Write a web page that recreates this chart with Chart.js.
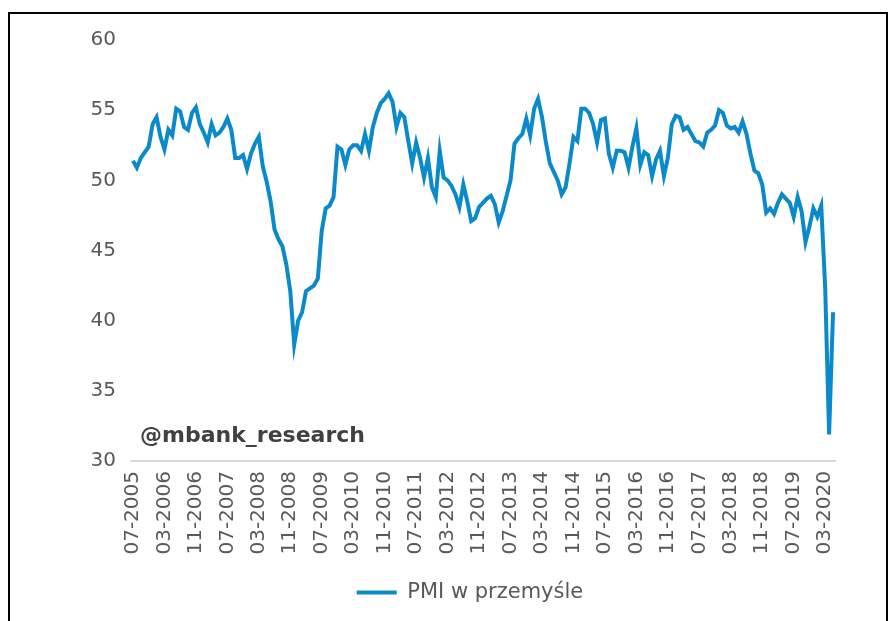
<!DOCTYPE html>
<html>
<head>
<meta charset="utf-8">
<script src="https://cdn.jsdelivr.net/npm/chart.js@4/dist/chart.umd.min.js"></script>
<style>
  body { margin: 0; background: #fff; }
  #wrap { position: relative; width: 893px; height: 621px; overflow: hidden; }
  #frame {
    position: absolute; left: 8px; top: 12px; width: 876px; height: 620px;
    border: 2px solid #000; border-bottom: none;
  }
  canvas { position: absolute; left: 0; top: 0; }
</style>
</head>
<body>
<div id="wrap">
  <div id="frame"></div>
  <canvas id="chart" width="893" height="621"></canvas>
</div>
<script>
// miesiące od 07-2005 do 05-2020
const startYear = 2005;
const startMonth = 7;
const monthCount = 179;

const tickLabels = [
  "07-2005", "03-2006", "11-2006", "07-2007", "03-2008", "11-2008",
  "07-2009", "03-2010", "11-2010", "07-2011", "03-2012", "11-2012",
  "07-2013", "03-2014", "11-2014", "07-2015", "03-2016", "11-2016",
  "07-2017", "03-2018", "11-2018", "07-2019", "03-2020"
];

const pmi = [
  51.4, 50.9, 51.6, 52.0, 52.4, 54.0, 54.5, 53.1, 52.2, 53.6,
  53.2, 55.1, 54.9, 53.8, 53.6, 54.8, 55.2, 54.0, 53.4, 52.7,
  54.0, 53.2, 53.4, 53.8, 54.4, 53.6, 51.6, 51.6, 51.8, 50.8,
  51.9, 52.6, 53.1, 51.0, 49.9, 48.5, 46.5, 45.8, 45.3, 44.0,
  42.1, 38.3, 40.0, 40.6, 42.1, 42.3, 42.5, 43.0, 46.4, 48.0,
  48.2, 48.8, 52.4, 52.2, 51.1, 52.2, 52.5, 52.5, 52.1, 53.3,
  52.1, 53.8, 54.8, 55.5, 55.8, 56.2, 55.6, 53.8, 54.8, 54.5,
  52.8, 51.2, 52.7, 51.6, 50.2, 51.6, 49.5, 48.8, 52.1, 50.2,
  50.0, 49.6, 49.0, 48.1, 49.7, 48.5, 47.1, 47.3, 48.1, 48.4,
  48.7, 48.9, 48.3, 47.0, 47.8, 48.9, 50.0, 52.6, 53.0, 53.3,
  54.4, 53.2, 55.1, 55.8, 54.5, 52.7, 51.2, 50.6, 50.0, 49.0,
  49.5, 51.2, 53.1, 52.8, 55.1, 55.1, 54.8, 54.0, 52.7, 54.3,
  54.4, 51.9, 50.9, 52.1, 52.1, 52.0, 50.9, 52.4, 53.7, 51.1,
  52.0, 51.8, 50.3, 51.5, 52.1, 50.3, 51.6, 54.0, 54.6, 54.5,
  53.6, 53.8, 53.3, 52.8, 52.7, 52.4, 53.4, 53.6, 53.9, 55.0,
  54.8, 53.9, 53.7, 53.8, 53.4, 54.2, 53.3, 51.9, 50.7, 50.5,
  49.7, 47.7, 48.0, 47.6, 48.4, 49.0, 48.7, 48.4, 47.4, 48.8,
  47.8, 45.6, 46.7, 48.0, 47.4, 48.2, 42.4, 31.9, 40.6
];

const months = [];
for (let i = 0; i < monthCount; i++) {
  const m = (startMonth - 1 + i) % 12 + 1;
  const y = startYear + Math.floor((startMonth - 1 + i) / 12);
  months.push(String(m).padStart(2, "0") + "-" + y);
}

const textGray = "#595959";
const lineBlue = "#0B8ACB";

// podpis @mbank_research w rogu wykresu
const signature = {
  id: "signature",
  afterDraw(chart) {
    const { ctx, chartArea } = chart;
    ctx.save();
    ctx.font = "bold 22px 'DejaVu Sans'";
    ctx.fillStyle = "#404040";
    ctx.textBaseline = "alphabetic";
    ctx.fillText("@mbank_research", chartArea.left + 9, chartArea.bottom - 19);
    ctx.restore();
  }
};

const config = {
  type: "line",
  data: {
    labels: months,
    datasets: [
      {
        label: "PMI w przemyśle",
        data: pmi,
        borderColor: lineBlue,
        backgroundColor: lineBlue,
        borderWidth: 4,
        pointRadius: 0,
        tension: 0,
      },
    ],
  },
  options: {
    responsive: false,
    animation: false,
    devicePixelRatio: 1,
    layout: { padding: { left: 47, top: 40, right: 0, bottom: 8 } },
    scales: {
      x: {
        offset: true,
        grid: { display: false, drawTicks: false },
        border: { display: true, color: "#d9d9d9", width: 2 },
        afterFit(scale) { scale.height = 111; },
        ticks: {
          autoSkip: false,
          minRotation: 90,
          maxRotation: 90,
          padding: 10,
          color: textGray,
          font: { family: "'DejaVu Sans'", size: 20 },
          callback(value, index) {
            const lab = months[index];
            return tickLabels.includes(lab) ? lab : null;
          },
        },
      },
      y: {
        min: 30,
        max: 60,
        grid: { display: false, drawTicks: false },
        border: { display: false },
        afterFit(scale) { scale.width = 84; },
        ticks: {
          stepSize: 5,
          padding: 15,
          color: textGray,
          font: { family: "'DejaVu Sans'", size: 20 },
        },
      },
      // pusty margines po prawej
      yRight: {
        position: "right",
        grid: { display: false, drawTicks: false },
        border: { display: false },
        ticks: { display: false },
        afterFit(scale) { scale.width = 58; },
      },
    },
    plugins: {
      tooltip: { enabled: false },
      legend: {
        position: "bottom",
        labels: {
          usePointStyle: true,
          pointStyle: "line",
          pointStyleWidth: 40,
          color: textGray,
          font: { family: "'DejaVu Sans'", size: 21 },
        },
      },
    },
  },
  plugins: [signature],
};

const myChart = new Chart(document.getElementById("chart"), config);
</script>
</body>
</html>
